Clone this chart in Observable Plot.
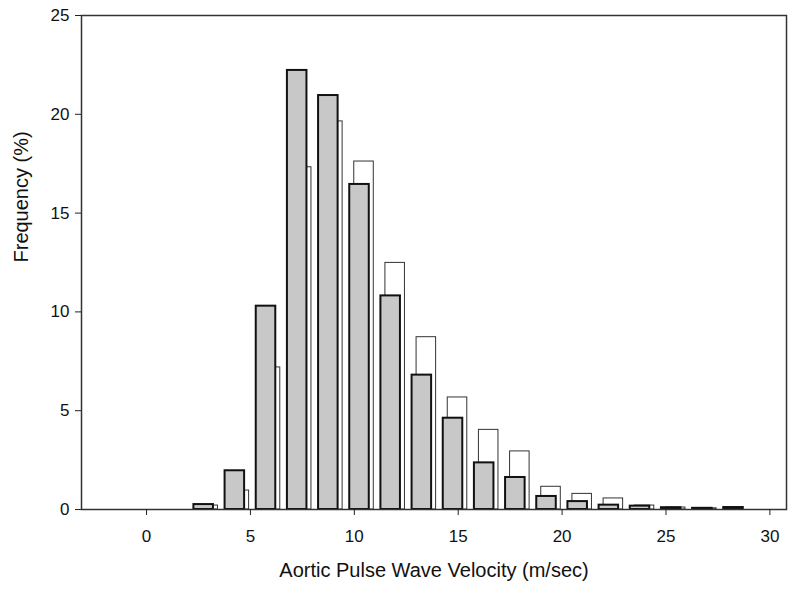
<!DOCTYPE html>
<html>
<head>
<meta charset="utf-8">
<script src="https://cdn.jsdelivr.net/npm/d3@7"></script>
<script src="https://cdn.jsdelivr.net/npm/@observablehq/plot@0.6"></script>
<style>
  html, body { margin: 0; padding: 0; background: #fff; }
  #chart { width: 800px; height: 593px; }
</style>
</head>
<body>
<div id="chart"></div>
<script>
// Bin centers (m/sec)
const binCenters = [2.75, 4.25, 5.75, 7.25, 8.75, 10.25, 11.75, 13.25, 14.75, 16.25, 17.75, 19.25, 20.75, 22.25, 23.75, 25.25, 26.75, 28.25];
// Grey (front) series, frequency %
const greyValues = [0.25, 1.96, 10.29, 22.22, 20.95, 16.45, 10.81, 6.80, 4.62, 2.36, 1.62, 0.66, 0.40, 0.22, 0.17, 0.09, 0.06, 0.10];
// White (back) series, frequency %
const whiteValues = [0.20, 0.96, 7.19, 17.32, 19.64, 17.61, 12.48, 8.72, 5.67, 4.03, 2.94, 1.15, 0.79, 0.56, 0.20, 0.10, 0.06, 0.0];
const xTicks = [0, 5, 10, 15, 20, 25, 30];
const yTicks = [0, 5, 10, 15, 20, 25];

const grey = binCenters.map((c, i) => ({c, v: greyValues[i]}));
const white = binCenters.map((c, i) => ({c, v: whiteValues[i]}));
const hw = 0.47;

const chart = Plot.plot({
  width: 800,
  height: 593,
  marginLeft: 81,
  marginRight: 14,
  marginTop: 15,
  marginBottom: 84,
  style: {fontFamily: "'Liberation Sans', Arial, sans-serif", fontSize: "17px", color: "#111", background: "#fff"},
  x: {domain: [-3.13, 30.8]},
  y: {domain: [0, 25]},
  marks: [
    Plot.rect(white.filter(d => d.v > 0), {x1: d => d.c - hw, x2: d => d.c + hw, y1: 0, y2: "v", dx: 4.5, fill: "white", stroke: "#333", strokeWidth: 1}),
    Plot.rect(grey, {x1: d => d.c - hw, x2: d => d.c + hw, y1: 0, y2: "v", fill: "#c8c8c8", stroke: "#111", strokeWidth: 2}),
    Plot.frame({stroke: "#333", strokeWidth: 1.5}),
    Plot.axisX({ticks: xTicks, tickSize: 6, tickPadding: 14, fontSize: 17, label: null, stroke: "#222"}),
    Plot.axisY({ticks: yTicks, tickSize: 6, tickPadding: 6, fontSize: 17, label: null, stroke: "#222"}),
    Plot.text(["Aortic Pulse Wave Velocity (m/sec)"], {frameAnchor: "bottom", dy: 67, fontSize: 20, fill: "#111"}),
    Plot.text(["Frequency (%)"], {frameAnchor: "left", dx: -60, rotate: -90, fontSize: 20, fill: "#111"})
  ]
});
document.getElementById("chart").appendChild(chart);
</script>
</body>
</html>
